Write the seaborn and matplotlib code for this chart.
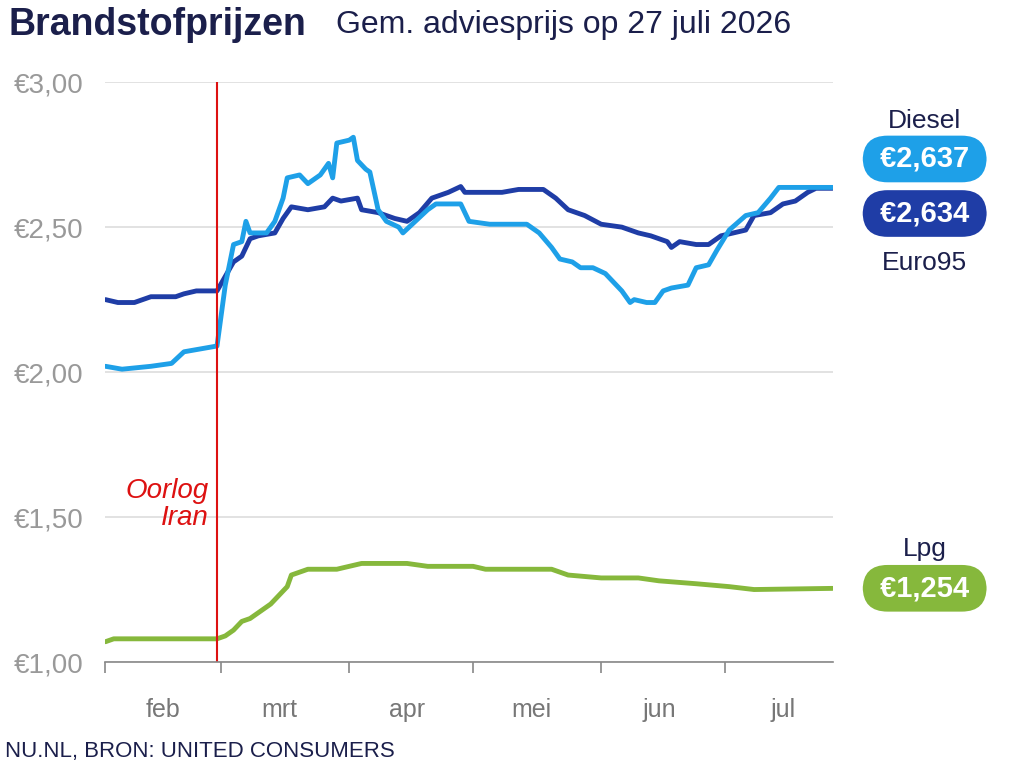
import matplotlib
matplotlib.use("Agg")
import matplotlib.pyplot as plt
import seaborn as sns
import pandas as pd

diesel_dates = ["02-01","02-05","02-12","02-17","02-20","02-24","02-28","03-02","03-04","03-06","03-07","03-08","03-12","03-14","03-16","03-17","03-20","03-22","03-25","03-27","03-28","03-29","04-01","04-02","04-03","04-05","04-06","04-08","04-10","04-13","04-14","04-17","04-20","04-22","04-28","04-30","05-05","05-14","05-17","05-20","05-22","05-25","05-27","05-30","06-02","06-04","06-06","06-08","06-09","06-12","06-14","06-16","06-18","06-22","06-24","06-27","06-29","07-02","07-06","07-09","07-12","07-14","07-27"]
diesel_vals = [2.02,2.01,2.02,2.03,2.07,2.08,2.09,2.30,2.44,2.45,2.52,2.48,2.48,2.52,2.60,2.67,2.68,2.65,2.68,2.72,2.67,2.79,2.80,2.81,2.73,2.70,2.69,2.56,2.52,2.50,2.48,2.52,2.56,2.58,2.58,2.52,2.51,2.51,2.48,2.43,2.39,2.38,2.36,2.36,2.34,2.31,2.28,2.24,2.25,2.24,2.24,2.28,2.29,2.30,2.36,2.37,2.42,2.49,2.54,2.55,2.60,2.637,2.637]

euro_dates = ["02-01","02-04","02-08","02-12","02-18","02-20","02-23","02-28","03-02","03-04","03-06","03-08","03-10","03-14","03-16","03-18","03-22","03-26","03-28","03-30","04-03","04-04","04-08","04-12","04-15","04-18","04-21","04-25","04-28","04-29","05-08","05-12","05-18","05-21","05-24","05-28","06-01","06-06","06-10","06-13","06-17","06-18","06-20","06-24","06-27","06-30","07-03","07-06","07-08","07-12","07-15","07-18","07-21","07-23","07-27"]
euro_vals = [2.25,2.24,2.24,2.26,2.26,2.27,2.28,2.28,2.33,2.38,2.40,2.46,2.47,2.48,2.53,2.57,2.56,2.57,2.60,2.59,2.60,2.56,2.55,2.53,2.52,2.55,2.60,2.62,2.64,2.62,2.62,2.63,2.63,2.60,2.56,2.54,2.51,2.50,2.48,2.47,2.45,2.43,2.45,2.44,2.44,2.47,2.48,2.49,2.54,2.55,2.58,2.59,2.62,2.634,2.634]

lpg_dates = ["02-01","02-03","02-28","03-02","03-04","03-06","03-08","03-10","03-13","03-15","03-17","03-18","03-22","03-29","04-01","04-04","04-15","04-20","05-01","05-04","05-20","05-24","06-01","06-10","06-15","06-24","07-02","07-08","07-27"]
lpg_vals = [1.07,1.08,1.08,1.09,1.11,1.14,1.15,1.17,1.20,1.23,1.26,1.30,1.32,1.32,1.33,1.34,1.34,1.33,1.33,1.32,1.32,1.30,1.29,1.29,1.28,1.27,1.26,1.25,1.254]

month_labels = ["feb","mrt","apr","mei","jun","jul"]
ytick_vals = [1.0, 1.5, 2.0, 2.5, 3.0]

C_D, C_E, C_L = "#1ea0e8", "#1f3da6", "#86b83c"
NAVY = "#1b1f4b"

def frame(dates, vals, name):
    return pd.DataFrame({"date": pd.to_datetime(["2026-" + d for d in dates]), "v": vals, "s": name})

df = pd.concat([frame(euro_dates, euro_vals, "Euro95"), frame(diesel_dates, diesel_vals, "Diesel"),
                frame(lpg_dates, lpg_vals, "Lpg")])

sns.set_theme(style="white")
plt.rcParams["font.family"] = ["Liberation Sans", "DejaVu Sans"]
fig = plt.figure(figsize=(10.24, 7.68), dpi=100)
ax = fig.add_axes([0.103, 0.138, 0.71, 0.755])
sns.lineplot(data=df, x="date", y="v", hue="s", palette={"Euro95": C_E, "Diesel": C_D, "Lpg": C_L},
             linewidth=3.5, ax=ax, legend=False, estimator=None, sort=False)
start, end = pd.Timestamp("2026-02-01"), pd.Timestamp("2026-07-27")
ax.set_xlim(start, end)
ax.set_ylim(1.0, 3.0)
ax.set_yticks(ytick_vals)
ax.set_yticklabels(["€" + f"{v:.2f}".replace(".", ",") for v in ytick_vals], color="#999999", fontsize=20)
ax.yaxis.grid(True, color="#dddddd", linewidth=1.2)
ax.set_axisbelow(True)
ax.tick_params(axis="y", length=0, pad=16)
for s in ["top", "right", "left"]:
    ax.spines[s].set_visible(False)
ax.spines["bottom"].set_color("#888888")
ax.spines["bottom"].set_linewidth(1.2)
ax.set_xticks(pd.date_range("2026-02-01", "2026-07-01", freq="MS"))
ax.set_xticklabels([])
ax.tick_params(axis="x", length=8, color="#888888", width=1.2, direction="out", bottom=True)
mids = [pd.Timestamp(f"2026-{m:02d}-15") for m in range(2, 8)]
ax.set_xticks(mids, minor=True)
ax.set_xticklabels(month_labels, minor=True, color="#777777", fontsize=18)
ax.tick_params(axis="x", which="minor", length=0, pad=26)
ax.set_xlabel(""); ax.set_ylabel("")

war = pd.Timestamp("2026-02-28")
ax.axvline(war, color="#dd1111", linewidth=1.5)
ax.text(war - pd.Timedelta(days=2), 1.545, "Oorlog\nIran", color="#dd1111", fontsize=20,
        style="italic", ha="right", va="center", linespacing=1.05)

fig.text(0.008, 0.968, "Brandstofprijzen", fontsize=27, fontweight="bold", color=NAVY, va="center")
fig.text(0.328, 0.968, "Gem. adviesprijs op 27 juli 2026", fontsize=23, color=NAVY, va="center")
fig.text(0.005, 0.022, "NU.NL, BRON: UNITED CONSUMERS", fontsize=16, color=NAVY, va="center")

px = 0.903
box = dict(boxstyle="round,pad=0.32,rounding_size=0.85", ec="none")
fig.text(px, 0.842, "Diesel", fontsize=19, color=NAVY, ha="center", va="center")
fig.text(px, 0.793, " €2,637 ", fontsize=21, fontweight="bold", color="white", ha="center", va="center",
         bbox=dict(box, fc=C_D))
fig.text(px, 0.722, " €2,634 ", fontsize=21, fontweight="bold", color="white", ha="center", va="center",
         bbox=dict(box, fc=C_E))
fig.text(px, 0.657, "Euro95", fontsize=19, color=NAVY, ha="center", va="center")
fig.text(px, 0.285, "Lpg", fontsize=19, color=NAVY, ha="center", va="center")
fig.text(px, 0.234, " €1,254 ", fontsize=21, fontweight="bold", color="white", ha="center", va="center",
         bbox=dict(box, fc=C_L))

fig.savefig("out.png", dpi=100)
